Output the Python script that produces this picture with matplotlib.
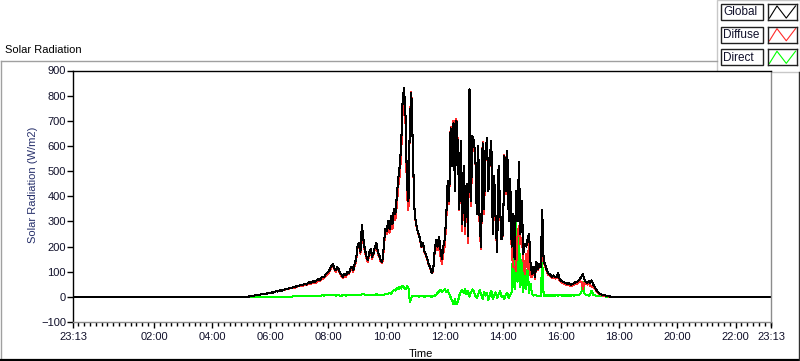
import numpy as np
import matplotlib.pyplot as plt
from matplotlib.ticker import MultipleLocator
from matplotlib.lines import Line2D
from matplotlib.patches import Rectangle

plt.rcParams['font.family'] = ['Liberation Sans', 'DejaVu Sans']

"""time axis: hours from midnight, the chart runs 23:13 -> 23:13"""
day_start = -47 / 60.0
day_end = 23 + 13 / 60.0
# samples every 3 min from 05:00 to 18:00, zero outside
sample_times = np.arange(5.0, 18.0001, 0.05)

tick_hours = [day_start, 2, 4, 6, 8, 10, 12, 14, 16, 18, 20, 22, day_end]
tick_labels = ["23:13", "02:00", "04:00", "06:00", "08:00", "10:00", "12:00",
               "14:00", "16:00", "18:00", "20:00", "22:00", "23:13"]
series_names = ["Global", "Diffuse", "Direct"]

"""one row = one hour (20 samples of 3 min)"""
global_rad = [
    0, 0, 0, 0, 1, 1, 2, 3, 4, 5, 6, 6, 8, 9, 10, 11, 12, 12, 14, 15,
    16, 18, 17, 20, 22, 21, 24, 26, 25, 28, 30, 33, 31, 35, 37, 36, 40, 38, 42, 44,
    45, 47, 46, 50, 52, 49, 55, 58, 54, 60, 63, 60, 66, 70, 68, 75, 80, 78, 90, 95,
    100, 110, 125, 130, 115, 105, 120, 110, 95, 88, 80, 92, 85, 100, 95, 110, 120, 105, 130, 150,
    200, 215, 180, 285, 230, 190, 165, 145, 175, 190, 160, 175, 200, 215, 180, 165, 145, 140, 195, 270,
    260, 300, 270, 320, 290, 350, 330, 400, 470, 520, 600, 780, 830, 720, 450, 380, 700, 810, 600, 360,
    300, 270, 250, 230, 200, 215, 180, 170, 150, 130, 115, 95, 105, 180, 225, 200, 240, 190, 150, 200,
    230, 320, 460, 380, 670, 520, 690, 420, 700, 600, 350, 620, 290, 520, 280, 450, 240, 825, 380, 640,
    620, 560, 330, 600, 290, 200, 610, 350, 580, 630, 420, 560, 620, 250, 480, 300, 180, 520, 360, 230,
    250, 560, 420, 580, 300, 470, 200, 330, 150, 420, 300, 535, 250, 380, 170, 210, 200, 230, 250, 130,
    90, 120, 80, 140, 110, 130, 120, 345, 140, 130, 110, 95, 90, 85, 80, 85, 78, 80, 95, 70,
    65, 60, 58, 55, 52, 56, 50, 48, 52, 55, 60, 58, 65, 72, 80, 90, 70, 60, 55, 62,
    55, 65, 50, 40, 30, 22, 15, 12, 9, 7, 6, 5, 3, 2, 1, 0, 0, 0, 0, 0,
    0,
]

diffuse_rad = [
    0, 0, 0, 0, 1, 1, 2, 3, 4, 5, 6, 6, 8, 9, 10, 11, 12, 12, 14, 15,
    16, 18, 17, 20, 22, 21, 24, 26, 25, 28, 29, 32, 30, 34, 36, 35, 38, 36, 40, 42,
    43, 45, 43, 47, 49, 46, 51, 54, 50, 56, 58, 55, 61, 66, 63, 70, 74, 73, 84, 89,
    94, 104, 118, 124, 109, 100, 114, 104, 90, 83, 74, 86, 80, 94, 89, 103, 114, 99, 123, 142,
    192, 206, 172, 275, 218, 181, 157, 138, 167, 181, 152, 168, 191, 205, 172, 158, 139, 133, 186, 260,
    250, 288, 255, 307, 270, 322, 305, 365, 440, 480, 567, 735, 792, 690, 408, 344, 712, 815, 595, 358,
    298, 267, 249, 228, 197, 213, 179, 168, 147, 126, 113, 94, 103, 176, 217, 185, 218, 162, 132, 175,
    200, 300, 434, 368, 675, 525, 700, 425, 708, 605, 345, 600, 262, 505, 250, 440, 215, 825, 362, 610,
    598, 555, 335, 588, 262, 190, 615, 330, 575, 615, 428, 552, 595, 256, 475, 282, 183, 510, 338, 230,
    245, 565, 410, 565, 303, 462, 180, 117, 120, 102, 240, 283, 210, 234, 150, 90, 170, 111, 235, 77,
    80, 115, 72, 134, 106, 125, 117, 205, 135, 124, 105, 89, 85, 79, 75, 79, 73, 74, 90, 64,
    59, 55, 52, 50, 46, 51, 44, 43, 46, 50, 54, 52, 58, 62, 60, 32, 55, 52, 49, 57,
    45, 40, 42, 34, 25, 18, 12, 9, 7, 5, 4, 4, 2, 1, 1, 0, 0, 0, 0, 0,
    0,
]

direct_rad = [
    0, 0, 0, 0, 0, 0, 0, 0, 0, 0, 0, 0, 0, 0, 0, 0, 0, 0, 0, 0,
    0, 0, 0, 0, 0, 0, 0, 0, 0, 0, 1, 1, 1, 1, 1, 1, 2, 2, 2, 2,
    2, 2, 3, 3, 3, 3, 4, 4, 4, 4, 5, 5, 5, 4, 5, 5, 6, 5, 6, 6,
    6, 6, 7, 6, 6, 5, 6, 6, 5, 5, 6, 6, 5, 6, 6, 7, 6, 6, 7, 8,
    8, 9, 8, 10, 12, 9, 8, 7, 8, 9, 8, 7, 9, 10, 8, 7, 6, 7, 9, 10,
    10, 12, 15, 13, 20, 28, 25, 35, 30, 40, 33, 45, 38, 30, 42, 36, -20, -5, 5, 2,
    2, 3, 1, 2, 3, 2, 1, 2, 3, 4, 2, 1, 2, 4, 8, 15, 22, 28, 18, 25,
    30, 20, 26, 12, -2, -15, -28, -10, -30, -18, 5, 20, 28, 15, 30, 10, 25, 0, 18, 30,
    22, 5, -5, 12, 28, 10, -8, 20, 5, 15, -12, 8, 25, -10, 5, 18, -5, 10, 22, 0,
    5, -8, 10, 15, -5, 8, 20, 213, 30, 318, 60, 252, 40, 146, 20, 120, 30, 119, 15, 53,
    10, 5, 8, 6, 4, 5, 3, 140, 5, 6, 5, 6, 5, 6, 5, 6, 5, 6, 5, 6,
    6, 5, 6, 5, 6, 5, 6, 5, 6, 5, 6, 6, 7, 10, 20, 58, 15, 8, 6, 5,
    10, 25, 8, 6, 5, 4, 3, 3, 2, 2, 2, 1, 1, 1, 0, 0, 0, 0, 0, 0,
    0,
]

"""colors"""
C_GLOBAL = '#000000'
C_DIFFUSE = '#ff2a2a'
C_DIRECT = '#00ff00'
C_TEXT = '#10102a'
C_YLABEL = '#27306b'
C_FRAME = '#a0a0a0'

W, H = 800, 361


def fx(px):
    return px / W


def fy(py):
    return 1 - py / H


t = np.concatenate([[day_start], sample_times, [day_end]])


def full(vals):
    return np.concatenate([[0], vals, [0]])


fig = plt.figure(figsize=(8, 3.61), dpi=100)
ax = fig.add_axes([fx(73), fy(322), fx(771) - fx(73), fy(70.5) - fy(322)])

LW = 0.75
ax.plot(t, full(direct_rad), color=C_DIRECT, lw=LW, antialiased=False)
ax.plot(t, full(diffuse_rad), color=C_DIFFUSE, lw=LW, antialiased=False)
ax.plot(t, full(global_rad), color=C_GLOBAL, lw=LW, antialiased=False)

ax.set_xlim(day_start, day_end)
ax.set_ylim(-100, 900)
ax.set_yticks(range(-100, 901, 100))
ax.set_xticks(tick_hours)
ax.set_xticklabels(tick_labels)
ax.xaxis.set_minor_locator(MultipleLocator(0.2))
ax.tick_params(axis='both', which='major', direction='out', length=4, width=1,
               color='black', labelsize=8, labelcolor=C_TEXT)
ax.tick_params(axis='y', pad=1)
ax.tick_params(axis='x', which='major', pad=3)
ax.tick_params(axis='x', which='minor', direction='out', length=3, width=1, color='black')

ax.spines['left'].set_color('black')
ax.spines['top'].set_color('black')
ax.spines['right'].set_color('#8c8c8c')
ax.spines['bottom'].set_color('#8c8c8c')
for s in ax.spines.values():
    s.set_linewidth(1.0)

"""labels"""
fig.text(fx(5), fy(50), "Solar Radiation", fontsize=8, color='black', va='center', ha='left')
fig.text(fx(33), fy(185), "Solar Radiation (W/m2)", fontsize=8, color=C_YLABEL,
         rotation=90, va='center', ha='center')
fig.text(fx(421), fy(354), "Time", fontsize=8, color='black', va='center', ha='center')

"""outer frame"""
fig.add_artist(Line2D([fx(0.5), fx(717)], [fy(61), fy(61)], color=C_FRAME, lw=1))
fig.add_artist(Line2D([fx(0.5), fx(0.5)], [fy(61), fy(360)], color=C_FRAME, lw=1))
fig.add_artist(Line2D([fx(0), fx(800)], [fy(359.8), fy(359.8)], color='black', lw=1.6))
fig.add_artist(Line2D([fx(799.3), fx(799.3)], [fy(72), fy(360)], color='#303030', lw=1))

"""legend panel"""
panel = Rectangle((fx(717), fy(72)), fx(83), 72 / H, transform=fig.transFigure,
                  facecolor='white', edgecolor='#c8c8c8', lw=1, zorder=-5)
fig.add_artist(panel)
row_tops = [4, 26.7, 49.3]
row_colors = [C_GLOBAL, C_DIFFUSE, C_DIRECT]
zig_x = [0.06, 0.32, 0.64, 0.96]
zig_y = [0.12, 0.88, 0.12, 0.88]
for name, top, col in zip(series_names, row_tops, row_colors):
    fig.add_artist(Rectangle((fx(720.7), fy(top + 16)), fx(42), 16 / H, transform=fig.transFigure,
                             facecolor='white', edgecolor='#202020', lw=1))
    fig.text(fx(723), fy(top + 8.3), name, fontsize=8.5, color=C_TEXT, va='center', ha='left')
    sax = fig.add_axes([fx(767.7), fy(top + 16), fx(29), 16 / H], zorder=5)
    sax.plot(zig_x, zig_y, color=col, lw=0.8)
    sax.set_xlim(0, 1)
    sax.set_ylim(0, 1)
    sax.set_xticks([])
    sax.set_yticks([])
    for s in sax.spines.values():
        s.set_color('#202020')
        s.set_linewidth(1.0)

fig.savefig("out.png", dpi=100)
